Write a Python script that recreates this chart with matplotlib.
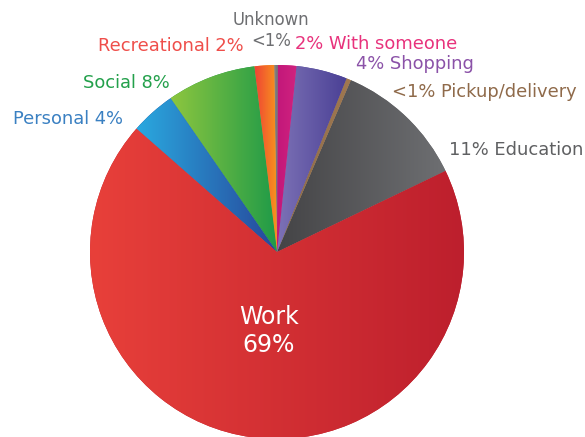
import numpy as np
import matplotlib
matplotlib.use('Agg')
import matplotlib.pyplot as plt
from matplotlib.colors import LinearSegmentedColormap

# Trip purpose shares, counter-clockwise from the Education/Work edge
purposes = ['Education', 'Pickup/delivery', 'Shopping', 'With someone', 'Unknown',
            'Recreational', 'Social', 'Personal', 'Work']
shares = [11.4, 0.4, 4.4, 1.6, 0.3, 1.7, 7.7, 3.9, 68.6]

# left -> right gradient stops for each wedge
grad_left = ['#444446', '#8a6a4a', '#7d72b6', '#c2177a', '#8a8a8a',
             '#ef4136', '#8dc63f', '#2aa9e0', '#e8403a']
grad_right = ['#6e6f72', '#a07850', '#4a4095', '#d0237f', '#6d6e71',
              '#f7941d', '#1e9a48', '#27479a', '#bd1f2d']
label_colors = ['#5f6062', '#8f6a4a', '#8b52a8', '#e8327c', '#6d6e71',
                '#ef4e4a', '#23a04b', '#3a80c2', 'white']


def pct(v):
    return '<1%' if v < 1 else '%d%%' % round(v)


W, H = 585, 437
fig = plt.figure(figsize=(W / 100, H / 100), dpi=100)
ax = fig.add_axes([0, 0, 1, 1])

cx, cy, r = 277, 185, 187
wedges, _ = ax.pie(shares, center=(cx, cy), radius=r, startangle=25.7,
                   counterclock=True, colors=grad_right,
                   wedgeprops=dict(linewidth=0))

for w, c0, c1 in zip(wedges, grad_left, grad_right):
    bb = w.get_path().get_extents(w.get_transform() - ax.transData)
    cmap = LinearSegmentedColormap.from_list('g', [c0, c1])
    im = ax.imshow(np.linspace(0, 1, 256)[None, :], cmap=cmap, aspect='auto',
                   extent=[bb.x0, bb.x1, bb.y0, bb.y1], interpolation='bilinear',
                   zorder=2)
    im.set_clip_path(w)

ax.set_xlim(0, W)
ax.set_ylim(0, H)
ax.set_aspect('equal')
ax.axis('off')

fs = 12.9
font = 'DejaVu Sans'
lab = dict(zip(purposes, shares))
col = dict(zip(purposes, label_colors))

ax.text(271, H - 20, 'Unknown', ha='center', va='center', fontsize=fs - 1,
        color=col['Unknown'], family=font)
ax.text(271, H - 41, pct(lab['Unknown']), ha='center', va='center', fontsize=fs - 1,
        color=col['Unknown'], family=font)
ax.text(244, H - 46, 'Recreational ' + pct(lab['Recreational']), ha='right', va='center',
        fontsize=fs, color=col['Recreational'], family=font)
ax.text(295, H - 44, pct(lab['With someone']) + ' With someone', ha='left', va='center',
        fontsize=fs, color=col['With someone'], family=font)
ax.text(356, H - 64, pct(lab['Shopping']) + ' Shopping', ha='left', va='center',
        fontsize=fs, color=col['Shopping'], family=font)
ax.text(577, H - 92, pct(lab['Pickup/delivery']) + ' Pickup/delivery', ha='right',
        va='center', fontsize=fs, color=col['Pickup/delivery'], family=font)
ax.text(583, H - 150, pct(lab['Education']) + ' Education', ha='right', va='center',
        fontsize=fs, color=col['Education'], family=font)
ax.text(170, H - 83, 'Social ' + pct(lab['Social']), ha='right', va='center',
        fontsize=fs, color=col['Social'], family=font)
ax.text(123, H - 119, 'Personal ' + pct(lab['Personal']), ha='right', va='center',
        fontsize=fs, color=col['Personal'], family=font)
ax.text(269, H - 331, 'Work\n' + pct(lab['Work']), ha='center', va='center',
        fontsize=17, color=col['Work'], family=font, linespacing=1.2)

fig.savefig('out.png', dpi=100)
